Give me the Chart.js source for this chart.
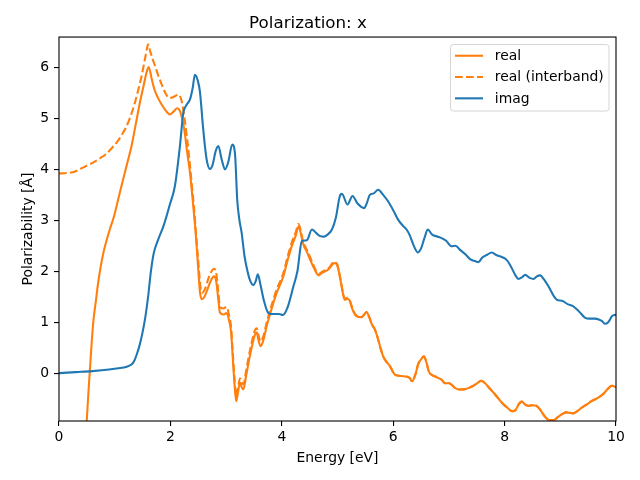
<!DOCTYPE html>
<html><head><meta charset="utf-8">
<script src="https://cdn.jsdelivr.net/npm/chart.js@4/dist/chart.umd.min.js"></script>
<style>html,body{margin:0;padding:0;background:#fff}canvas{display:block}</style>
</head><body>
<canvas id="c" width="640" height="480"></canvas>
<script>
// Data: [energy (eV), polarizability (Å)]
const realPoints = [
  [0.45,-1.8],[0.5,-0.9],[0.53,-0.35],[0.56,0.15],[0.59,0.65],[0.62,1.05],[0.66,1.4],[0.7,1.75],
  [0.75,2.1],[0.8,2.38],[0.86,2.63],[0.92,2.85],[0.98,3.05],[1.06,3.4],[1.15,3.8],[1.22,4.1],
  [1.3,4.45],[1.38,4.9],[1.45,5.3],[1.52,5.65],[1.57,5.9],[1.61,6.01],[1.67,5.75],[1.72,5.55],
  [1.78,5.4],[1.84,5.28],[1.92,5.15],[1.99,5.08],[2.06,5.14],[2.12,5.2],[2.17,5.15],[2.21,5.0],
  [2.25,4.78],[2.3,4.35],[2.35,3.95],[2.4,3.4],[2.45,2.8],[2.49,2.2],[2.53,1.6],[2.56,1.45],
  [2.6,1.48],[2.65,1.6],[2.72,1.8],[2.78,1.9],[2.82,1.82],[2.86,1.45],[2.89,1.19],[2.95,1.15],
  [3.01,1.18],[3.05,1.05],[3.09,0.8],[3.12,0.3],[3.15,-0.2],[3.18,-0.55],[3.21,-0.4],[3.25,-0.18],
  [3.28,-0.28],[3.31,-0.32],[3.36,-0.05],[3.42,0.3],[3.48,0.6],[3.52,0.76],[3.55,0.8],[3.58,0.65],
  [3.62,0.53],[3.67,0.65],[3.73,0.93],[3.8,1.2],[3.9,1.55],[4.03,1.91],[4.1,2.2],[4.18,2.5],
  [4.25,2.7],[4.3,2.88],[4.34,2.75],[4.38,2.55],[4.45,2.38],[4.52,2.2],[4.57,2.08],[4.62,1.97],
  [4.66,1.92],[4.72,1.97],[4.78,2.0],[4.85,2.05],[4.92,2.15],[4.96,2.16],[5.0,2.1],[5.05,1.85],
  [5.1,1.55],[5.13,1.44],[5.18,1.46],[5.22,1.42],[5.27,1.25],[5.34,1.12],[5.43,1.1],[5.48,1.15],
  [5.52,1.2],[5.57,1.1],[5.62,0.95],[5.67,0.86],[5.72,0.7],[5.77,0.5],[5.82,0.33],[5.88,0.22],
  [5.94,0.14],[6.03,-0.03],[6.1,-0.05],[6.17,-0.06],[6.24,-0.07],[6.3,-0.1],[6.34,-0.16],[6.4,-0.02],
  [6.45,0.18],[6.5,0.27],[6.55,0.33],[6.6,0.2],[6.64,0.03],[6.7,-0.04],[6.78,-0.08],[6.87,-0.13],
  [6.93,-0.2],[7.0,-0.2],[7.05,-0.23],[7.12,-0.3],[7.2,-0.32],[7.3,-0.31],[7.38,-0.28],[7.45,-0.24],
  [7.53,-0.18],[7.58,-0.15],[7.65,-0.2],[7.74,-0.31],[7.83,-0.42],[7.95,-0.58],[8.05,-0.68],[8.14,-0.75],
  [8.2,-0.72],[8.26,-0.6],[8.31,-0.56],[8.37,-0.62],[8.43,-0.64],[8.5,-0.63],[8.57,-0.64],[8.64,-0.72],
  [8.72,-0.85],[8.8,-0.92],[8.88,-0.92],[8.96,-0.86],[9.04,-0.8],[9.11,-0.77],[9.17,-0.78],[9.23,-0.79],
  [9.3,-0.75],[9.38,-0.68],[9.47,-0.62],[9.56,-0.55],[9.65,-0.5],[9.71,-0.46],[9.78,-0.4],[9.86,-0.3],
  [9.92,-0.25],[9.97,-0.26],[10,-0.28]
];
const interbandPoints = [
  [0,3.92],[0.15,3.93],[0.29,3.96],[0.4,4.02],[0.53,4.09],[0.65,4.16],[0.75,4.23],[0.83,4.29],
  [0.95,4.42],[1.07,4.58],[1.15,4.72],[1.21,4.84],[1.28,5.03],[1.36,5.3],[1.42,5.55],[1.48,5.82],
  [1.54,6.15],[1.58,6.38],[1.6,6.46],[1.63,6.35],[1.67,6.2],[1.72,6.05],[1.78,5.85],[1.84,5.68],
  [1.9,5.52],[1.95,5.43],[1.99,5.4],[2.05,5.42],[2.1,5.45],[2.14,5.47],[2.18,5.42],[2.22,5.25],
  [2.26,4.95],[2.3,4.6],[2.34,4.2],[2.38,3.75],[2.42,3.3],[2.46,2.75],[2.5,2.2],[2.54,1.7],
  [2.57,1.58],[2.62,1.65],[2.68,1.85],[2.74,2.0],[2.78,2.05],[2.82,1.98],[2.86,1.6],[2.89,1.3],
  [2.95,1.27],[3.01,1.3],[3.05,1.15],[3.09,0.9],[3.12,0.4],[3.15,-0.1],[3.18,-0.45],[3.21,-0.3],
  [3.25,-0.1],[3.28,-0.18],[3.31,-0.22],[3.36,0.05],[3.42,0.4],[3.48,0.7],[3.52,0.85],[3.55,0.88],
  [3.58,0.75],[3.62,0.62],[3.67,0.73],[3.73,1.0],[3.8,1.27],[3.9,1.62],[4.03,1.97],[4.1,2.27],
  [4.18,2.57],[4.25,2.77],[4.3,2.93],[4.34,2.8],[4.38,2.6],[4.45,2.42],[4.52,2.25],[4.57,2.12],
  [4.62,2.0],[4.66,1.95],[4.72,1.99],[4.78,2.02],[4.85,2.07],[4.92,2.17],[4.96,2.18],[5.0,2.12],
  [5.05,1.87],[5.1,1.57],[5.13,1.46],[5.18,1.48],[5.22,1.43],[5.27,1.26],[5.34,1.13],[5.43,1.1],
  [5.48,1.15],[5.52,1.2],[5.57,1.1],[5.62,0.95],[5.67,0.86],[5.72,0.7],[5.77,0.5],[5.82,0.33],
  [5.88,0.22],[5.94,0.14],[6.03,-0.03],[6.1,-0.05],[6.17,-0.06],[6.24,-0.07],[6.3,-0.1],[6.34,-0.16],
  [6.4,-0.02],[6.45,0.18],[6.5,0.27],[6.55,0.33],[6.6,0.2],[6.64,0.03],[6.7,-0.04],[6.78,-0.08],
  [6.87,-0.13],[6.93,-0.2],[7.0,-0.2],[7.05,-0.23],[7.12,-0.3],[7.2,-0.32],[7.3,-0.31],[7.38,-0.28],
  [7.45,-0.24],[7.53,-0.18],[7.58,-0.15],[7.65,-0.2],[7.74,-0.31],[7.83,-0.42],[7.95,-0.58],[8.05,-0.68],
  [8.14,-0.75],[8.2,-0.72],[8.26,-0.6],[8.31,-0.56],[8.37,-0.62],[8.43,-0.64],[8.5,-0.63],[8.57,-0.64],
  [8.64,-0.72],[8.72,-0.85],[8.8,-0.92],[8.88,-0.92],[8.96,-0.86],[9.04,-0.8],[9.11,-0.77],[9.17,-0.78],
  [9.23,-0.79],[9.3,-0.75],[9.38,-0.68],[9.47,-0.62],[9.56,-0.55],[9.65,-0.5],[9.71,-0.46],[9.78,-0.4],
  [9.86,-0.3],[9.92,-0.25],[9.97,-0.26],[10,-0.28]
];
const imagPoints = [
  [0,0.0],[0.3,0.02],[0.6,0.04],[0.9,0.07],[1.1,0.1],[1.2,0.12],[1.3,0.17],[1.35,0.24],
  [1.4,0.38],[1.45,0.56],[1.5,0.8],[1.55,1.1],[1.6,1.5],[1.65,2.0],[1.7,2.35],[1.78,2.62],
  [1.88,2.9],[1.99,3.31],[2.08,3.67],[2.17,4.45],[2.23,5.1],[2.26,5.21],[2.31,5.3],[2.35,5.37],
  [2.4,5.6],[2.44,5.86],[2.49,5.75],[2.53,5.53],[2.59,4.78],[2.65,4.2],[2.71,4.01],[2.76,4.1],
  [2.81,4.35],[2.86,4.46],[2.92,4.2],[2.98,4.0],[3.04,4.15],[3.11,4.49],[3.16,4.3],[3.2,3.4],
  [3.24,3.0],[3.28,2.75],[3.33,2.3],[3.38,2.02],[3.43,1.82],[3.49,1.73],[3.53,1.8],[3.57,1.94],
  [3.62,1.72],[3.68,1.42],[3.76,1.18],[3.85,1.16],[3.95,1.16],[4.02,1.14],[4.1,1.28],[4.21,1.71],
  [4.28,2.0],[4.36,2.59],[4.45,2.61],[4.54,2.82],[4.62,2.75],[4.69,2.69],[4.76,2.68],[4.81,2.71],
  [4.9,2.82],[4.97,3.05],[5.04,3.47],[5.08,3.52],[5.18,3.31],[5.27,3.48],[5.36,3.33],[5.48,3.24],
  [5.53,3.35],[5.58,3.5],[5.65,3.53],[5.73,3.6],[5.82,3.5],[5.91,3.37],[6.0,3.2],[6.09,3.01],
  [6.17,2.9],[6.24,2.82],[6.3,2.7],[6.37,2.5],[6.44,2.37],[6.5,2.45],[6.56,2.65],[6.62,2.82],
  [6.7,2.72],[6.8,2.68],[6.87,2.65],[6.95,2.6],[7.05,2.49],[7.12,2.5],[7.2,2.42],[7.3,2.33],
  [7.38,2.24],[7.47,2.2],[7.53,2.18],[7.6,2.27],[7.68,2.32],[7.77,2.37],[7.85,2.32],[7.95,2.28],
  [8.04,2.22],[8.12,2.08],[8.19,1.93],[8.25,1.85],[8.31,1.88],[8.37,1.93],[8.45,1.87],[8.52,1.85],
  [8.58,1.9],[8.64,1.92],[8.7,1.85],[8.8,1.68],[8.88,1.52],[8.94,1.44],[9.03,1.42],[9.14,1.35],
  [9.22,1.32],[9.3,1.25],[9.37,1.17],[9.44,1.09],[9.53,1.07],[9.62,1.07],[9.7,1.05],[9.75,1.02],
  [9.8,0.97],[9.86,1.0],[9.93,1.12],[10,1.15]
];
const xTicks = [0, 2, 4, 6, 8, 10];
const yTicks = [0, 1, 2, 3, 4, 5, 6];
const seriesLabels = ['real', 'real (interband)', 'imag'];
const titleText = 'Polarization: x';
const xLabel = 'Energy [eV]';
const yLabel = 'Polarizability [Å]';

const FONT = 'DejaVu Sans';
const ORANGE = '#ff7f0e', BLUE = '#1f77b4';
const LW = 2.08, DASH = [7.7, 3.3];
const toXY = pts => pts.map(p => ({x: p[0], y: p[1]}));

const framePlugin = {
  id: 'frame',
  afterDatasetsDraw(chart) {
    const {ctx, chartArea: a} = chart;
    ctx.save();
    ctx.strokeStyle = '#000';
    ctx.lineWidth = 1.1;
    ctx.strokeRect(a.left, a.top, a.right - a.left, a.bottom - a.top);
    ctx.restore();
  }
};

const legendPlugin = {
  id: 'mplLegend',
  afterDraw(chart) {
    const ctx = chart.ctx;
    const a = chart.chartArea;
    const bx = a.right - 7 - 158.5, by = a.top + 7.5, bw = 158.5, bh = 66.5;
    ctx.save();
    ctx.beginPath();
    ctx.roundRect(bx, by, bw, bh, 2.8);
    ctx.fillStyle = 'rgba(255,255,255,0.8)';
    ctx.fill();
    ctx.strokeStyle = 'rgba(204,204,204,0.8)';
    ctx.lineWidth = 1;
    ctx.stroke();
    ctx.font = '13.9px "' + FONT + '"';
    ctx.textBaseline = 'middle';
    ctx.textAlign = 'left';
    chart.data.datasets.forEach((ds, i) => {
      const y = by + 11.2 + i * 21.3;
      ctx.beginPath();
      ctx.strokeStyle = ds.borderColor;
      ctx.lineWidth = LW;
      ctx.setLineDash(ds.borderDash || []);
      ctx.moveTo(bx + 4.5, y);
      ctx.lineTo(bx + 32.5, y);
      ctx.stroke();
      ctx.setLineDash([]);
      ctx.fillStyle = '#000';
      ctx.fillText(ds.label, bx + 44.3, y + 0.8);
    });
    ctx.restore();
  }
};

new Chart(document.getElementById('c'), {
  type: 'line',
  data: {
    datasets: [
      {label: seriesLabels[0], data: toXY(realPoints), borderColor: ORANGE, borderWidth: LW,
       pointRadius: 0, fill: false, cubicInterpolationMode: 'monotone', order: 3},
      {label: seriesLabels[1], data: toXY(interbandPoints), borderColor: ORANGE, borderWidth: LW,
       borderDash: DASH, pointRadius: 0, fill: false, cubicInterpolationMode: 'monotone', order: 2},
      {label: seriesLabels[2], data: toXY(imagPoints), borderColor: BLUE, borderWidth: LW,
       pointRadius: 0, fill: false, cubicInterpolationMode: 'monotone', order: 1}
    ]
  },
  options: {
    responsive: false,
    animation: false,
    devicePixelRatio: 1,
    layout: {padding: {left: 0, right: 24, top: 0, bottom: 0}},
    plugins: {
      legend: {display: false},
      tooltip: {enabled: false},
      title: {display: true, text: titleText, color: '#000',
              font: {family: FONT, size: 16.7, weight: 'normal'},
              padding: {top: 13.2, bottom: 3.8}}
    },
    scales: {
      x: {
        type: 'linear', min: 0, max: 10,
        afterBuildTicks: s => { s.ticks = xTicks.map(v => ({value: v})); },
        afterFit: s => { s.height = 59; },
        grid: {display: true, drawOnChartArea: false, drawTicks: true, tickLength: 5, color: '#000', lineWidth: 1.1},
        border: {display: false},
        ticks: {color: '#000', padding: 3, font: {family: FONT, size: 13.9}, maxRotation: 0},
        title: {display: true, text: xLabel, color: '#000', font: {family: FONT, size: 13.9},
                padding: {top: 0, bottom: 13.7}}
      },
      y: {
        type: 'linear', min: -0.94, max: 6.6,
        afterBuildTicks: s => { s.ticks = yTicks.map(v => ({value: v})); },
        afterFit: s => { s.width = 59; },
        grid: {display: true, drawOnChartArea: false, drawTicks: true, tickLength: 5, color: '#000', lineWidth: 1.1},
        border: {display: false},
        ticks: {color: '#000', padding: 5, font: {family: FONT, size: 13.9}},
        title: {display: true, text: yLabel, color: '#000', font: {family: FONT, size: 13.9},
                padding: {top: 19.9, bottom: 0}}
      }
    }
  },
  plugins: [framePlugin, legendPlugin]
});
</script>
</body></html>
